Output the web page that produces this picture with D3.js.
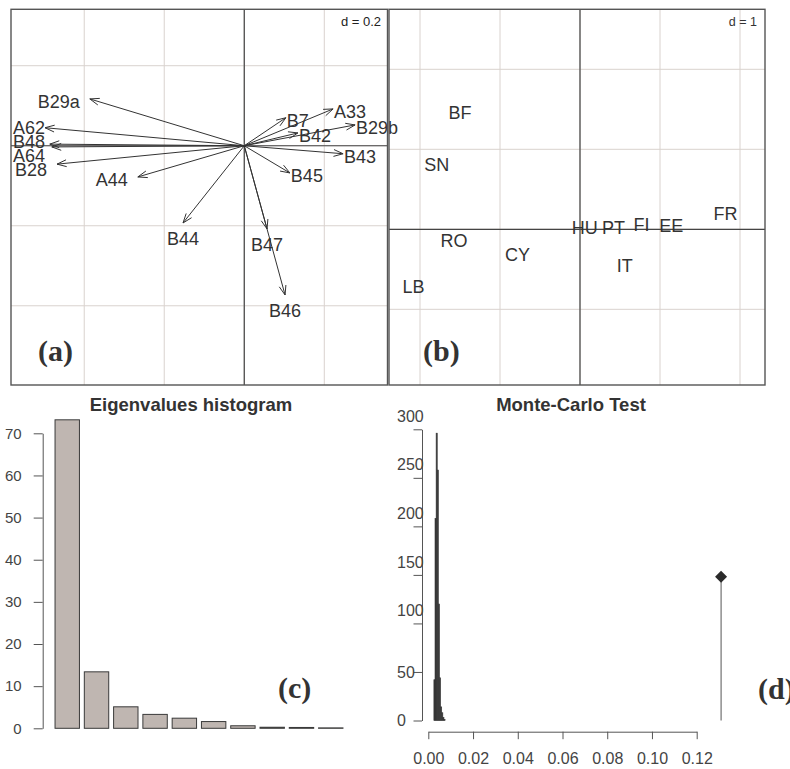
<!DOCTYPE html>
<html><head><meta charset="utf-8">
<script src="https://cdn.jsdelivr.net/npm/d3@7"></script>
<style>body{margin:0;background:#fff}svg{display:block}</style>
</head><body>
<script>
// ---------------- data ----------------
// (a) correlation circle arrows (d = 0.2)
const arrowLabels = ["B29a","A62","B48","A64","B28","A44","B44","B47","B46","B45","B43","B29b","B42","B7","A33"];
const arrowX = [-0.386,-0.498,-0.486,-0.481,-0.468,-0.266,-0.153,0.057,0.102,0.114,0.247,0.277,0.134,0.104,0.222];
const arrowY = [0.117,0.045,0.004,-0.003,-0.046,-0.078,-0.193,-0.208,-0.373,-0.068,-0.020,0.052,0.032,0.070,0.092];
// (b) country scores (d = 1)
const pointLabels = ["BF","SN","RO","CY","LB","HU","PT","FI","EE","FR","IT"];
const pointX = [-1.50,-1.79,-1.575,-0.78,-2.08,0.06,0.42,0.77,1.14,1.82,0.56];
const pointY = [1.46,0.81,-0.146,-0.31,-0.72,0.02,0.02,0.06,0.05,0.20,-0.455];
// (c) eigenvalues
const eigenvalues = [73.2,13.4,5.1,3.3,2.4,1.6,0.6,0.25,0.2,0.1];
const eigenTicks = [0,10,20,30,40,50,60,70];
// (d) Monte-Carlo test
const simBreaks = [0.0025,0.003,0.0035,0.004,0.0045,0.005,0.0055,0.006,0.0065,0.007,0.0075];
const simCounts = [42,208,296,258,120,44,14,8,3,1];
const observed = 0.1309;
const mcYTicks = [0,50,100,150,200,250,300];
const mcXTicks = [0,0.02,0.04,0.06,0.08,0.10,0.12];

// ---------------- drawing ----------------
const W = 790, H = 769;
const svg = d3.select("body").append("svg").attr("width", W).attr("height", H);
const SANS = "'Liberation Sans', Arial, Helvetica, sans-serif";
const SERIF = "'Liberation Serif', 'Times New Roman', serif";
const GRID = "#d9d2ce", FRAME = "#555", AXC = "#444", TXT = "#333";

function gridPanel(g, xs, ys, d) {
  const [x0, x1] = xs.domain(), [y0, y1] = ys.domain();
  const gx = d3.range(Math.ceil(x0 / d) * d, x1 + 1e-9, d);
  const gy = d3.range(Math.ceil(y0 / d) * d, y1 + 1e-9, d);
  g.selectAll(".gx").data(gx).join("line")
    .attr("x1", v => xs(v)).attr("x2", v => xs(v))
    .attr("y1", ys(y0)).attr("y2", ys(y1))
    .attr("stroke", GRID).attr("stroke-width", 1);
  g.selectAll(".gy").data(gy).join("line")
    .attr("y1", v => ys(v)).attr("y2", v => ys(v))
    .attr("x1", xs(x0)).attr("x2", xs(x1))
    .attr("stroke", GRID).attr("stroke-width", 1);
  g.append("line").attr("x1", xs(0)).attr("x2", xs(0)).attr("y1", ys(y0)).attr("y2", ys(y1))
    .attr("stroke", AXC).attr("stroke-width", 1.2);
  g.append("line").attr("y1", ys(0)).attr("y2", ys(0)).attr("x1", xs(x0)).attr("x2", xs(x1))
    .attr("stroke", AXC).attr("stroke-width", 1.2);
}
function frame(g, xs, ys) {
  const [x0, x1] = xs.range(), [y0, y1] = ys.range();
  g.append("rect").attr("x", x0).attr("y", y1).attr("width", x1 - x0).attr("height", y0 - y1)
    .attr("fill", "none").attr("stroke", FRAME).attr("stroke-width", 1.4);
}

// ---- panel (a) ----
const ga = svg.append("g");
const ax = d3.scaleLinear().domain([-0.583, 0.358]).range([11, 387.5]);
const ay = d3.scaleLinear().domain([-0.598, 0.341]).range([385, 9.3]);
gridPanel(ga, ax, ay, 0.2);

const arrows = arrowLabels.map((l, i) => ({ l, x: arrowX[i], y: arrowY[i] }));
const headLen = 10, headAng = 20 * Math.PI / 180;
arrows.forEach(a => {
  const x0 = ax(0), y0 = ay(0), x1 = ax(a.x), y1 = ay(a.y);
  const ang = Math.atan2(y1 - y0, x1 - x0);
  const p = d3.path();
  p.moveTo(x0, y0); p.lineTo(x1, y1);
  p.moveTo(x1 - headLen * Math.cos(ang - headAng), y1 - headLen * Math.sin(ang - headAng));
  p.lineTo(x1, y1);
  p.lineTo(x1 - headLen * Math.cos(ang + headAng), y1 - headLen * Math.sin(ang + headAng));
  ga.append("path").attr("d", p.toString()).attr("fill", "none")
    .attr("stroke", "#333").attr("stroke-width", 1);
});

const FS = 18;
const meas = svg.append("text").attr("font-family", SANS).attr("font-size", FS);
arrows.forEach(a => {
  meas.text(a.l);
  a.w = meas.node().getComputedTextLength();
  const tx = ax(a.x), ty = ay(a.y);
  if (Math.abs(a.x) >= Math.abs(a.y)) {
    if (a.x > 0) { a.left = tx + 1; }
    else { a.left = Math.max(13, tx - 10 - a.w); }
    a.cy = ty + 3;
  } else {
    a.left = tx - a.w / 2;
    a.cy = a.y < 0 ? ty + 16 : ty - 16;
  }
});
meas.remove();
// vertical dodge for labels that collide
const SEP = 14;
for (let it = 0; it < 80; it++) {
  for (let i = 0; i < arrows.length; i++) for (let j = i + 1; j < arrows.length; j++) {
    const a = arrows[i], b = arrows[j];
    const hov = Math.min(a.left + a.w, b.left + b.w) - Math.max(a.left, b.left);
    const dy = b.cy - a.cy;
    if (hov > 0 && Math.abs(dy) < SEP) {
      const push = (SEP - Math.abs(dy)) / 2 * (dy >= 0 ? 1 : -1);
      a.cy -= push; b.cy += push;
    }
  }
}
ga.selectAll(".al").data(arrows).join("text")
  .attr("x", d => d.left).attr("y", d => d.cy).attr("dy", "0.36em")
  .attr("font-family", SANS).attr("font-size", FS).attr("fill", TXT)
  .text(d => d.l);
frame(ga, ax, ay);
ga.append("text").attr("x", 381).attr("y", 26).attr("text-anchor", "end")
  .attr("font-family", SANS).attr("font-size", 13).attr("fill", "#222").text("d = 0.2");
ga.append("text").attr("x", 38).attr("y", 361).attr("font-family", SERIF)
  .attr("font-weight", "bold").attr("font-size", 30).attr("fill", TXT).text("(a)");

// ---- panel (b) ----
const gb = svg.append("g");
const bx = d3.scaleLinear().domain([-2.3875, 2.3125]).range([389, 765]);
const by = d3.scaleLinear().domain([-1.946, 2.75]).range([385, 9.3]);
gridPanel(gb, bx, by, 1);
gb.selectAll(".pl").data(pointLabels).join("text")
  .attr("x", (d, i) => bx(pointX[i])).attr("y", (d, i) => by(pointY[i]))
  .attr("dy", "0.36em").attr("text-anchor", "middle")
  .attr("font-family", SANS).attr("font-size", FS).attr("fill", TXT)
  .text(d => d);
frame(gb, bx, by);
gb.append("text").attr("x", 757).attr("y", 26).attr("text-anchor", "end")
  .attr("font-family", SANS).attr("font-size", 12.5).attr("fill", "#333").text("d = 1");
gb.append("text").attr("x", 423).attr("y", 361).attr("font-family", SERIF)
  .attr("font-weight", "bold").attr("font-size", 30).attr("fill", TXT).text("(b)");

// ---- panel (c) ----
const gc = svg.append("g");
const cx = d3.scaleBand().domain(d3.range(eigenvalues.length))
  .range([52.6, 345.4]).paddingInner(0.2 / 1.2).paddingOuter(0.1 / 1.2);
const cy = d3.scaleLinear().domain([0, 70]).range([728.3, 433.3]);
gc.selectAll("rect").data(eigenvalues).join("rect")
  .attr("x", (d, i) => cx(i)).attr("width", cx.bandwidth())
  .attr("y", d => cy(d)).attr("height", d => cy(0) - cy(d))
  .attr("fill", "#bfb6b1").attr("stroke", "#3a3a3a").attr("stroke-width", 1);
const cAxis = gc.append("g").attr("transform", "translate(42.7,0)")
  .call(d3.axisLeft(cy).tickValues(eigenTicks).tickSize(9).tickSizeOuter(0).tickPadding(12));
cAxis.select(".domain").attr("stroke", "#555");
cAxis.selectAll(".tick line").attr("stroke", "#555");
cAxis.selectAll("text").attr("font-family", SANS).attr("font-size", 15).attr("fill", "#444");
gc.append("text").attr("x", 191).attr("y", 410.5).attr("text-anchor", "middle")
  .attr("font-family", SANS).attr("font-weight", "bold").attr("font-size", 18.5).attr("fill", TXT)
  .text("Eigenvalues histogram");
gc.append("text").attr("x", 278).attr("y", 698).attr("font-family", SERIF)
  .attr("font-weight", "bold").attr("font-size", 30).attr("fill", TXT).text("(c)");

// ---- panel (d) ----
const gd = svg.append("g");
const dx = d3.scaleLinear().domain([0, 0.12]).range([428.3, 696.7]);
const dy = d3.scaleLinear().domain([0, 300]).range([720.5, 429.3]);
const bins = simCounts.map((c, i) => ({ x0: simBreaks[i], x1: simBreaks[i + 1], c }));
gd.selectAll("rect").data(bins).join("rect")
  .attr("x", d => dx(d.x0)).attr("width", d => dx(d.x1) - dx(d.x0))
  .attr("y", d => dy(d.c)).attr("height", d => dy(0) - dy(d.c))
  .attr("fill", "#3c3c3c").attr("stroke", "#333").attr("stroke-width", 0.6);
const hObs = d3.max(simCounts) / 2;
gd.append("line").attr("x1", dx(observed)).attr("x2", dx(observed))
  .attr("y1", dy(0)).attr("y2", dy(hObs)).attr("stroke", "#555").attr("stroke-width", 1);
gd.append("path").attr("transform", `translate(${dx(observed)},${dy(hObs)})`)
  .attr("d", "M0,-6L6,0L0,6L-6,0Z").attr("fill", "#2a2a2a");
const dYAxis = gd.append("g").attr("transform", "translate(422,0)")
  .call(d3.axisLeft(dy).tickValues(mcYTicks).tickSize(8.5).tickSizeOuter(0));
dYAxis.select(".domain").attr("stroke", "#555");
dYAxis.selectAll(".tick line").attr("stroke", "#555");
dYAxis.selectAll("text").attr("font-family", SANS).attr("font-size", 16).attr("fill", "#444")
  .attr("text-anchor", "start").attr("x", -25)
  .attr("y", d => String(d).length >= 3 ? -13 : 0);
const dXAxis = gd.append("g").attr("transform", "translate(0,731.7)")
  .call(d3.axisBottom(dx).tickValues(mcXTicks).tickSize(7.5).tickSizeOuter(0).tickPadding(13.5)
    .tickFormat(d3.format(".2f")));
dXAxis.select(".domain").attr("stroke", "#555");
dXAxis.selectAll(".tick line").attr("stroke", "#555");
dXAxis.selectAll("text").attr("font-family", SANS).attr("font-size", 16).attr("fill", "#444");
gd.append("text").attr("x", 571).attr("y", 410.5).attr("text-anchor", "middle")
  .attr("font-family", SANS).attr("font-weight", "bold").attr("font-size", 18.5).attr("fill", TXT)
  .text("Monte-Carlo Test");
gd.append("text").attr("x", 758).attr("y", 699).attr("font-family", SERIF)
  .attr("font-weight", "bold").attr("font-size", 30).attr("fill", TXT).text("(d)");
</script>
</body></html>
